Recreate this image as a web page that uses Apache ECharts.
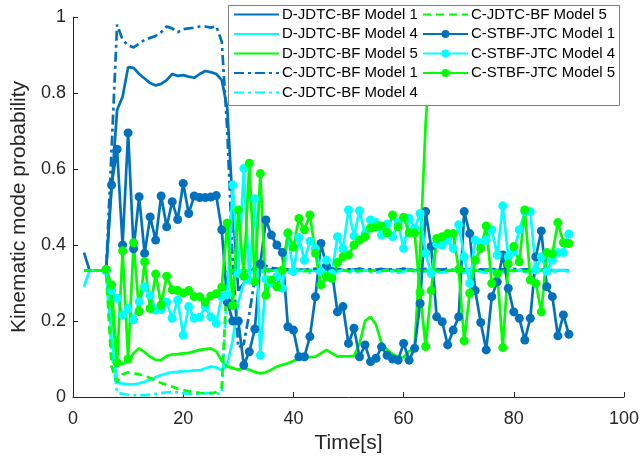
<!DOCTYPE html>
<html>
<head>
<meta charset="utf-8">
<script src="https://cdn.jsdelivr.net/npm/echarts@6/dist/echarts.min.js"></script>
<style>
html,body{margin:0;padding:0;background:#fff;}
#chart{width:642px;height:464px;}
</style>
</head>
<body>
<div id="chart"></div>
<script>
// time stamps [s]
var timeFull = [2,3,4,5,6,7,8,9,10,11,12,13,14,15,16,17,18,19,20,21,22,23,24,25,26,27,28,29,30,31,32,33,34,35,36,37,38,39,40,41,42,43,44,45,46,47,48,49,50,51,52,53,54,55,56,57,58,59,60,61,62,63,64,65,66,67,68,69,70,71,72,73,74,75,76,77,78,79,80,81,82,83,84,85,86,87,88,89,90];
var timeSTBF = [6,7,8,9,10,11,12,13,14,15,16,17,18,19,20,21,22,23,24,25,26,27,28,29,30,31,32,33,34,35,36,37,38,39,40,41,42,43,44,45,46,47,48,49,50,51,52,53,54,55,56,57,58,59,60,61,62,63,64,65,66,67,68,69,70,71,72,73,74,75,76,77,78,79,80,81,82,83,84,85,86,87,88,89,90];

var xTicks = [0,20,40,60,80,100];
var yTicks = [0,0.2,0.4,0.6,0.8,1];

var dModel1 = [0.38,0.333,0.333,0.333,0.333,0.55,0.755,0.79,0.868,0.866,0.85,0.838,0.826,0.82,0.824,0.834,0.85,0.845,0.847,0.843,0.84,0.85,0.858,0.855,0.85,0.834,0.76,0.5,0.28,0.3,0.33,
  0.34,0.338,0.336,0.335,0.334,0.334,0.335,0.333,0.334,0.335,0.334,0.333,0.334,0.336,0.335,0.334,0.333,0.334,0.335,0.334,0.333,0.334,0.333,0.334,0.335,0.334,0.333,0.334,0.335,0.334,0.333,0.334,0.334,0.335,0.334,0.333,0.334,0.333,0.334,0.335,0.334,0.333,0.334,0.335,0.334,0.333,0.334,0.333,0.334,0.335,0.334,0.333,0.334,0.335,0.334,0.333,0.334,0.333];
var dModel4 = [0.29,0.333,0.333,0.333,0.333,0.16,0.038,0.035,0.033,0.033,0.036,0.04,0.046,0.052,0.058,0.062,0.065,0.066,0.068,0.068,0.07,0.07,0.075,0.08,0.078,0.07,0.085,0.15,0.25,0.3,0.325,
  0.332,0.333,0.334,0.333,0.332,0.333,0.334,0.333,0.332,0.333,0.334,0.333,0.332,0.333,0.333,0.334,0.333,0.332,0.333,0.334,0.333,0.332,0.333,0.334,0.333,0.332,0.333,0.334,0.333,0.332,0.333,0.334,0.333,0.332,0.333,0.334,0.333,0.332,0.333,0.334,0.333,0.332,0.333,0.334,0.333,0.332,0.333,0.334,0.333,0.332,0.333,0.334,0.333,0.332,0.333,0.334,0.333,0.332];
var dModel5 = [0.333,0.333,0.333,0.333,0.333,0.24,0.09,0.088,0.092,0.115,0.128,0.118,0.106,0.098,0.097,0.108,0.112,0.113,0.115,0.116,0.12,0.124,0.126,0.128,0.12,0.095,0.08,0.076,0.072,0.075,0.072,
  0.066,0.062,0.065,0.072,0.08,0.085,0.089,0.095,0.1,0.104,0.105,0.106,0.115,0.124,0.115,0.107,0.107,0.107,0.108,0.14,0.2,0.211,0.19,0.141,0.125,0.113,0.106,0.104,0.12,0.13,0.38,0.72,0.93,
  0.97,0.975,0.978,0.98,0.98,0.982,0.98,0.978,0.98,0.982,0.98,0.98,0.978,0.98,0.982,0.98,0.98,0.978,0.98,0.982,0.98,0.98,0.978,0.98,0.98];
var cModel1 = [0.333,0.333,0.333,0.333,0.333,0.65,0.98,0.94,0.925,0.92,0.93,0.94,0.945,0.95,0.96,0.975,0.97,0.96,0.968,0.97,0.972,0.975,0.975,0.972,0.976,0.935,0.7,0.35,0.13,0.14,0.22,0.31,0.36,0.345,
  0.34,0.338,0.336,0.335,0.337,0.334,0.336,0.335,0.338,0.334,0.336,0.335,0.337,0.334,0.336,0.335,0.338,0.334,0.336,0.335,0.337,0.334,0.336,0.335,0.338,0.334,0.336,0.335,0.337,0.334,0.336,0.335,0.338,0.334,0.336,0.335,0.337,0.334,0.336,0.335,0.338,0.334,0.336,0.335,0.337,0.334,0.336,0.335,0.338,0.334,0.336];
var cModel4 = [0.333,0.333,0.333,0.333,0.333,0.12,0.012,0.008,0.006,0.005,0.005,0.005,0.006,0.008,0.01,0.012,0.013,0.012,0.01,0.008,0.007,0.008,0.01,0.01,0.008,0.01,0.3,0.34,0.33,
  0.326,0.33,0.334,0.33,0.327,0.331,0.334,0.329,0.327,0.331,0.333,0.33,0.327,0.331,0.334,0.33,0.327,0.33,0.334,0.33,0.327,0.331,0.333,0.33,0.327,0.331,0.334,0.33,0.327,0.33,0.334,0.33,0.327,0.331,0.333,0.33,0.327,0.331,0.334,0.33,0.327,0.33,0.334,0.33,0.327,0.331,0.333,0.33,0.327,0.331,0.334,0.33,0.327,0.33,0.334,0.33,0.327,0.331,0.333,0.33];
var cModel5 = [0.333,0.333,0.333,0.333,0.333,0.08,0.04,0.06,0.065,0.062,0.06,0.055,0.05,0.043,0.037,0.032,0.027,0.022,0.018,0.015,0.013,0.011,0.01,0.01,0.012,0.025,0.33,
  0.333,0.331,0.333,0.332,0.334,0.331,0.333,0.332,0.334,0.331,0.333,0.332,0.334,0.331,0.333,0.332,0.334,0.331,0.333,0.332,0.334,0.331,0.333,0.332,0.334,0.331,0.333,0.332,0.334,0.331,0.333,0.332,0.334,0.331,0.333,0.332,0.334,0.331,0.333,0.332,0.334,0.331,0.333,0.332,0.334,0.331,0.333,0.332,0.334,0.331,0.333,0.332,0.334,0.331,0.333,0.332,0.334,0.331,0.333];

var sModel1 = [0.333,0.558,0.652,0.40,0.695,0.39,0.527,0.378,0.474,0.413,0.529,0.448,0.514,0.467,0.562,0.483,0.529,0.525,0.525,0.526,0.53,0.44,0.25,0.2,0.2,0.084,0.119,0.179,0.35,0.466,0.426,0.40,0.38,0.185,0.176,0.106,0.106,0.159,0.264,0.404,0.345,0.33,0.224,0.238,0.141,0.181,0.106,0.137,0.093,0.102,0.132,0.11,0.10,0.097,0.141,0.097,0.128,0.246,0.488,0.396,0.211,0.198,0.137,0.176,0.211,0.488,0.43,0.28,0.196,0.124,0.264,0.303,0.374,0.286,0.224,0.207,0.15,0.207,0.369,0.437,0.29,0.264,0.161,0.216,0.165];
var sModel4 = [0.333,0.28,0.26,0.216,0.233,0.203,0.251,0.29,0.268,0.229,0.23,0.25,0.207,0.255,0.163,0.238,0.207,0.21,0.238,0.211,0.194,0.264,0.27,0.558,0.325,0.601,0.308,0.522,0.11,0.31,0.3,0.317,0.286,0.43,0.33,0.42,0.36,0.41,0.39,0.33,0.36,0.325,0.422,0.39,0.492,0.424,0.49,0.43,0.466,0.459,0.426,0.455,0.422,0.459,0.391,0.47,0.444,0.483,0.378,0.325,0.403,0.40,0.413,0.391,0.453,0.369,0.299,0.413,0.405,0.413,0.44,0.374,0.503,0.369,0.382,0.44,0.488,0.488,0.334,0.369,0.33,0.36,0.38,0.38,0.429];
var sModel5 = [0.336,0.295,0.09,0.385,0.10,0.406,0.225,0.356,0.233,0.324,0.242,0.318,0.282,0.28,0.274,0.28,0.264,0.264,0.25,0.266,0.272,0.289,0.458,0.241,0.492,0.318,0.615,0.303,0.588,0.268,0.308,0.29,0.334,0.432,0.394,0.47,0.44,0.479,0.378,0.295,0.317,0.312,0.354,0.369,0.374,0.40,0.413,0.422,0.444,0.448,0.45,0.432,0.479,0.448,0.473,0.432,0.432,0.275,0.133,0.28,0.417,0.422,0.43,0.43,0.336,0.148,0.273,0.36,0.391,0.45,0.299,0.325,0.13,0.35,0.396,0.356,0.492,0.308,0.299,0.224,0.38,0.376,0.459,0.406,0.404];

var BLUE = '#0072BD', CYAN = '#00FFFF', GREEN = '#00FF00';
var FONT = 'Liberation Sans, Arial, Helvetica, sans-serif';

function pairs(t, v) { return t.map(function (x, i) { return [x, v[i]]; }); }

function lineSeries(name, t, v, color, type, marker) {
  return {
    name: name, type: 'line', data: pairs(t, v),
    symbol: marker ? 'circle' : 'none', symbolSize: 9, showSymbol: !!marker,
    lineStyle: { color: color, width: 2.7, type: type },
    itemStyle: { color: color },
    emphasis: { disabled: true }, animation: false, z: 2,
    _marker: !!marker
  };
}
var DASHDOT = [10, 4, 3, 4], DASH = [8, 5];

var series = [
  lineSeries('D-JDTC-BF Model 1', timeFull, dModel1, BLUE, 'solid'),
  lineSeries('D-JDTC-BF Model 4', timeFull, dModel4, CYAN, 'solid'),
  lineSeries('D-JDTC-BF Model 5', timeFull, dModel5, GREEN, 'solid'),
  lineSeries('C-JDTC-BF Model 1', timeFull, cModel1, BLUE, DASHDOT),
  lineSeries('C-JDTC-BF Model 4', timeFull, cModel4, CYAN, DASHDOT),
  lineSeries('C-JDTC-BF Model 5', timeFull, cModel5, GREEN, DASH),
  lineSeries('C-STBF-JTC Model 1', timeSTBF, sModel1, BLUE, 'solid', true),
  lineSeries('C-STBF-JTC Model 4', timeSTBF, sModel4, CYAN, 'solid', true),
  lineSeries('C-STBF-JTC Model 5', timeSTBF, sModel5, GREEN, 'solid', true)
];

function legendItems(list) {
  return list.map(function (s) {
    return s._marker ? { name: s.name } : { name: s.name, itemStyle: { opacity: 0, borderWidth: 0 } };
  });
}

var legendCommon = {
  orient: 'vertical', top: 7, itemWidth: 45, itemHeight: 10, itemGap: 4.5,
  textStyle: { fontFamily: FONT, fontSize: 15, color: '#000', lineHeight: 15, padding: [0, 0, 0, -2] },
  padding: 0, z: 6, selectedMode: false
};

var chart = echarts.init(document.getElementById('chart'), null, { renderer: 'canvas' });
chart.setOption({
  backgroundColor: '#fff',
  animation: false,
  grid: { left: 73, right: 17, top: 17, bottom: 67, containLabel: false },
  xAxis: {
    type: 'value', min: xTicks[0], max: xTicks[xTicks.length - 1], interval: 20,
    name: 'Time[s]', nameLocation: 'middle', nameGap: 34,
    nameTextStyle: { fontFamily: FONT, fontSize: 21, color: '#262626' },
    axisLine: { show: true, lineStyle: { color: '#262626', width: 1 } },
    axisTick: { show: true, inside: true, length: 5, lineStyle: { color: '#262626' } },
    axisLabel: { fontFamily: FONT, fontSize: 18, color: '#262626', margin: 13 },
    splitLine: { show: false }
  },
  yAxis: {
    type: 'value', min: yTicks[0], max: yTicks[yTicks.length - 1], interval: 0.2,
    name: 'Kinematic mode probability', nameLocation: 'middle', nameGap: 43,
    nameTextStyle: { fontFamily: FONT, fontSize: 21, color: '#262626' },
    axisLine: { show: true, lineStyle: { color: '#262626', width: 1 } },
    axisTick: { show: true, inside: true, length: 5, lineStyle: { color: '#262626' } },
    axisLabel: { fontFamily: FONT, fontSize: 18, color: '#262626', margin: 7 },
    splitLine: { show: false }
  },
  graphic: [{
    type: 'rect', z: 5, silent: true,
    shape: { x: 228.5, y: 5.5, width: 391, height: 100 },
    style: { fill: '#fff', stroke: '#808080', lineWidth: 1 }
  }],
  legend: [
    Object.assign({}, legendCommon, { left: 233, data: legendItems(series.slice(0, 5)) }),
    Object.assign({}, legendCommon, { left: 422, data: legendItems(series.slice(5)) })
  ],
  series: series
});
</script>
</body>
</html>
